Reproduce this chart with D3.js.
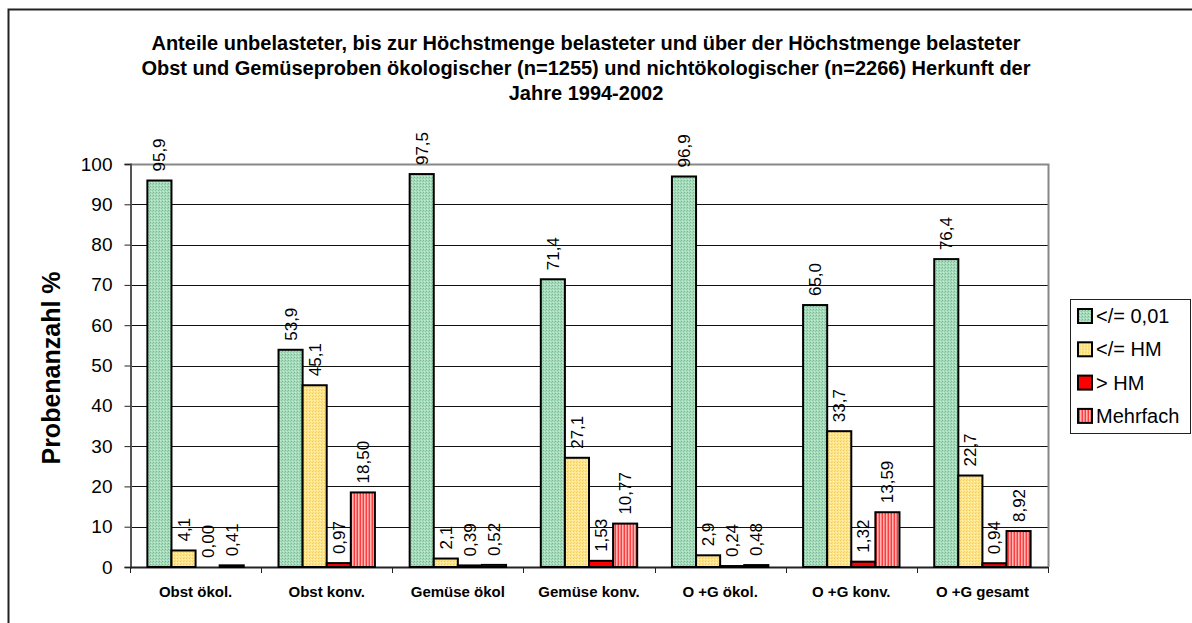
<!DOCTYPE html>
<html>
<head>
<meta charset="utf-8">
<script src="https://cdn.jsdelivr.net/npm/d3@7"></script>
<style>
  body { margin: 0; background: #fff; }
  text { font-family: "Liberation Sans", Arial, sans-serif; }
</style>
</head>
<body>
<div id="chart-area"></div>
<script>
// data
var categories = ["Obst ökol.", "Obst konv.", "Gemüse ökol", "Gemüse konv.", "O +G ökol.", "O +G konv.", "O +G gesamt"];
var seriesNames = ["</= 0,01", "</= HM", "> HM", "Mehrfach"];
var unbelastet = [95.9, 53.9, 97.5, 71.4, 96.9, 65.0, 76.4];
var bisHM = [4.1, 45.1, 2.1, 27.1, 2.9, 33.7, 22.7];
var ueberHM = [0.00, 0.97, 0.39, 1.53, 0.24, 1.32, 0.94];
var mehrfach = [0.41, 18.50, 0.52, 10.77, 0.48, 13.59, 8.92];
var decimals = [1, 1, 2, 2];
var yTicks = [0, 10, 20, 30, 40, 50, 60, 70, 80, 90, 100];
var titleLines = [
  "Anteile unbelasteter, bis zur Höchstmenge belasteter und über der Höchstmenge belasteter",
  "Obst und Gemüseproben ökologischer (n=1255) und nichtökologischer (n=2266) Herkunft  der",
  "Jahre 1994-2002"
];

var seriesValues = [unbelastet, bisHM, ueberHM, mehrfach];
var fills = ["url(#pGreen)", "url(#pYellow)", "#ff0000", "url(#pPink)"];

var W = 1192, H = 623;
var plot = {left: 130, top: 164, right: 1048, bottom: 567};

var svg = d3.select("#chart-area")
  .append("svg")
  .attr("width", W)
  .attr("height", H);

// patterns
var defs = svg.append("defs");
var pg = defs.append("pattern").attr("id", "pGreen").attr("patternUnits", "userSpaceOnUse")
  .attr("width", 3).attr("height", 3);
pg.append("rect").attr("width", 3).attr("height", 3).attr("fill", "#a6dcbc");
pg.append("rect").attr("x", 0).attr("y", 0).attr("width", 1).attr("height", 1).attr("fill", "#78b892");
pg.append("rect").attr("x", 2).attr("y", 1).attr("width", 1).attr("height", 1).attr("fill", "#8cc8a4");
pg.append("rect").attr("x", 1).attr("y", 2).attr("width", 1).attr("height", 1).attr("fill", "#c4ecd2");

var py = defs.append("pattern").attr("id", "pYellow").attr("patternUnits", "userSpaceOnUse")
  .attr("width", 3).attr("height", 3);
py.append("rect").attr("width", 3).attr("height", 3).attr("fill", "#ffe589");
py.append("rect").attr("x", 0).attr("y", 0).attr("width", 1).attr("height", 1).attr("fill", "#f0cc60");
py.append("rect").attr("x", 2).attr("y", 1).attr("width", 1).attr("height", 1).attr("fill", "#fff4c0");
py.append("rect").attr("x", 1).attr("y", 2).attr("width", 1).attr("height", 1).attr("fill", "#f6d874");

var pp = defs.append("pattern").attr("id", "pPink").attr("patternUnits", "userSpaceOnUse")
  .attr("width", 3).attr("height", 3);
pp.append("rect").attr("width", 3).attr("height", 3).attr("fill", "#ffb4b4");
pp.append("rect").attr("x", 0).attr("width", 1).attr("height", 3).attr("fill", "#ff3c3c");
pp.append("rect").attr("x", 2).attr("width", 1).attr("height", 3).attr("fill", "#ff8080");

// outer frame
svg.append("rect")
  .attr("x", 8.5).attr("y", 9.5)
  .attr("width", 1200).attr("height", 700)
  .attr("fill", "none").attr("stroke", "#222").attr("stroke-width", 2);

// title
svg.append("g").selectAll("text")
  .data(titleLines)
  .enter().append("text")
  .attr("x", 586)
  .attr("y", function(d, i) { return 50 + i * 25; })
  .attr("text-anchor", "middle")
  .style("font-size", "20px")
  .style("font-weight", "bold")
  .text(function(d) { return d; });

// scales
var x0 = d3.scaleBand()
  .domain(categories)
  .range([plot.left, plot.right])
  .paddingInner(0.265)
  .paddingOuter(0.1325);
var x1 = d3.scaleBand()
  .domain(d3.range(4))
  .range([0, x0.bandwidth()]);
var y = d3.scaleLinear()
  .domain([0, 100])
  .range([plot.bottom, plot.top]);

// grid
svg.append("g").selectAll("line")
  .data(yTicks.slice(1, -1))
  .enter().append("line")
  .attr("x1", plot.left).attr("x2", plot.right)
  .attr("y1", function(d) { return Math.round(y(d)) + 0.5; })
  .attr("y2", function(d) { return Math.round(y(d)) + 0.5; })
  .attr("stroke", "#111").attr("stroke-width", 1);

// plot frame (top and right)
svg.append("path")
  .attr("d", "M" + plot.left + "," + (plot.top + 0.5) + "H" + (plot.right + 0.5) + "V" + plot.bottom)
  .attr("fill", "none").attr("stroke", "#888").attr("stroke-width", 2);

// y axis
var yAxis = svg.append("g")
  .attr("transform", "translate(" + (plot.left + 0.5) + ",0)")
  .call(d3.axisLeft(y).tickValues(yTicks).tickSize(6).tickPadding(12));
yAxis.selectAll("text").style("font-size", "19px").attr("fill", "#000");
yAxis.selectAll("line").attr("stroke", "#222");
yAxis.select(".domain").attr("stroke", "#555").attr("stroke-width", 2);

// x axis ticks at category boundaries
var bounds = d3.range(categories.length + 1).map(function(i) {
  return plot.left + i * (plot.right - plot.left) / categories.length;
});
svg.append("line")
  .attr("x1", plot.left).attr("x2", plot.right)
  .attr("y1", plot.bottom + 0.5).attr("y2", plot.bottom + 0.5)
  .attr("stroke", "#222").attr("stroke-width", 2);
svg.append("g").selectAll("line")
  .data(bounds)
  .enter().append("line")
  .attr("x1", function(d) { return Math.round(d) + 0.5; })
  .attr("x2", function(d) { return Math.round(d) + 0.5; })
  .attr("y1", plot.bottom).attr("y2", plot.bottom + 6)
  .attr("stroke", "#222");
svg.append("g").selectAll("text")
  .data(categories)
  .enter().append("text")
  .attr("x", function(d) { return x0(d) + x0.bandwidth() / 2; })
  .attr("y", 597)
  .attr("text-anchor", "middle")
  .style("font-size", "15px")
  .style("font-weight", "bold")
  .text(function(d) { return d; });

// y title
svg.append("text")
  .attr("transform", "translate(60,368) rotate(-90)")
  .attr("text-anchor", "middle")
  .style("font-size", "25px")
  .style("font-weight", "bold")
  .text("Probenanzahl %");

// bars
var rows = [];
categories.forEach(function(c, ci) {
  seriesValues.forEach(function(vals, si) {
    rows.push({cat: c, s: si, v: vals[ci]});
  });
});

var bars = svg.append("g");
bars.selectAll("rect")
  .data(rows)
  .enter().append("rect")
  .attr("x", function(d) { return x0(d.cat) + x1(d.s); })
  .attr("y", function(d) { return y(d.v); })
  .attr("width", x1.bandwidth())
  .attr("height", function(d) { return y(0) - y(d.v); })
  .attr("fill", function(d) { return fills[d.s]; })
  .attr("stroke", "#000")
  .attr("stroke-width", 2);

// value labels
bars.selectAll("text")
  .data(rows)
  .enter().append("text")
  .attr("transform", function(d) {
    var cx = x0(d.cat) + x1(d.s) + x1.bandwidth() / 2 + 6;
    return "translate(" + cx + "," + (y(d.v) - 9) + ") rotate(-90)";
  })
  .style("font-size", "17px")
  .text(function(d) { return d.v.toFixed(decimals[d.s]).replace(".", ","); });

// legend
var lg = svg.append("g").attr("transform", "translate(1070,299)");
lg.append("rect")
  .attr("x", 0.5).attr("y", 0.5).attr("width", 120).attr("height", 134)
  .attr("fill", "#fff").attr("stroke", "#222");
var items = lg.selectAll("g.item")
  .data(seriesNames)
  .enter().append("g")
  .attr("class", "item")
  .attr("transform", function(d, i) { return "translate(0," + (17 + i * 33.3) + ")"; });
items.append("rect")
  .attr("x", 8).attr("y", -7).attr("width", 14).attr("height", 14)
  .attr("fill", function(d, i) { return fills[i]; })
  .attr("stroke", "#000").attr("stroke-width", 2);
items.append("text")
  .attr("x", 26).attr("y", 7)
  .style("font-size", "20px")
  .text(function(d) { return d; });
</script>
</body>
</html>
